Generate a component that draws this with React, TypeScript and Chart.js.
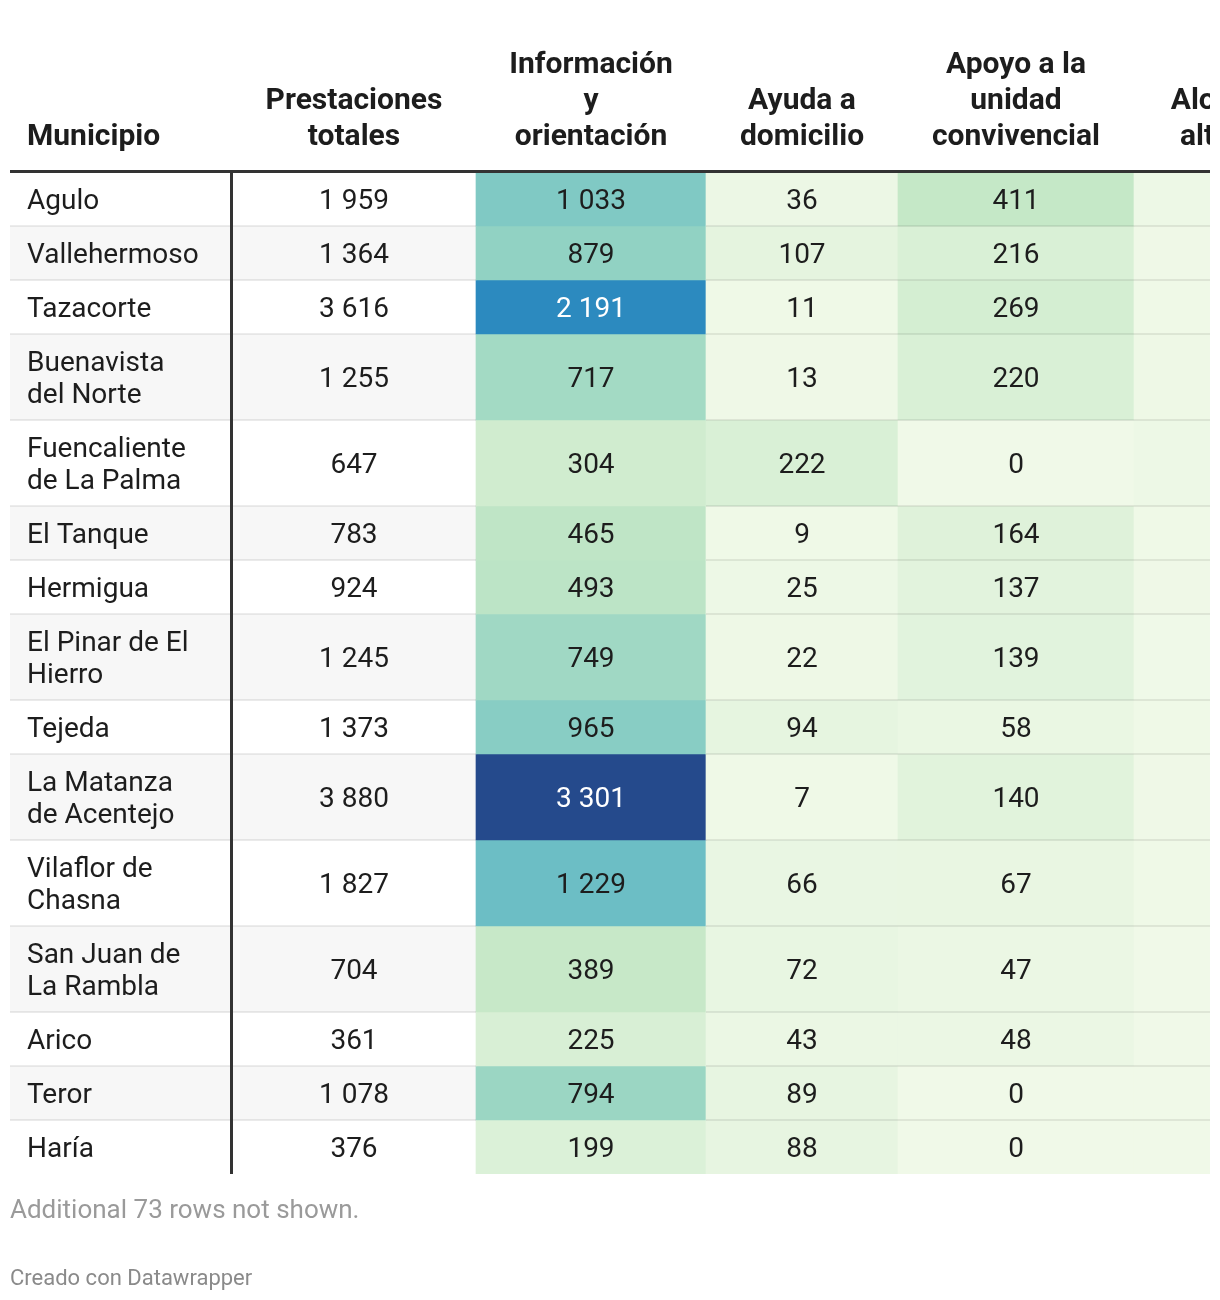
import React, { useEffect, useRef } from "react";
import { Chart, registerables } from "chart.js";

Chart.register(...registerables);

// ---------------- DATA ----------------
const municipios: string[][] = [
  ["Agulo"],
  ["Vallehermoso"],
  ["Tazacorte"],
  ["Buenavista", "del Norte"],
  ["Fuencaliente", "de La Palma"],
  ["El Tanque"],
  ["Hermigua"],
  ["El Pinar de El", "Hierro"],
  ["Tejeda"],
  ["La Matanza", "de Acentejo"],
  ["Vilaflor de", "Chasna"],
  ["San Juan de", "La Rambla"],
  ["Arico"],
  ["Teror"],
  ["Haría"],
];
const prestacionesTotales = [1959, 1364, 3616, 1255, 647, 783, 924, 1245, 1373, 3880, 1827, 704, 361, 1078, 376];
const informacionOrientacion = [1033, 879, 2191, 717, 304, 465, 493, 749, 965, 3301, 1229, 389, 225, 794, 199];
const ayudaDomicilio = [36, 107, 11, 13, 222, 9, 25, 22, 94, 7, 66, 72, 43, 89, 88];
const apoyoUnidadConvivencial = [411, 216, 269, 220, 0, 164, 137, 139, 58, 140, 67, 47, 48, 0, 0];
const alojamientoAlternativo = [28, 12, 8, 22, 25, 10, 12, 6, 8, 14, 10, 4, 3, 2, 1];

const headers: string[][] = [
  ["Municipio"],
  ["Prestaciones", "totales"],
  ["Información", "y", "orientación"],
  ["Ayuda a", "domicilio"],
  ["Apoyo a la", "unidad", "convivencial"],
  ["Alojamiento", "alternativo"],
];
const footnote = "Additional 73 rows not shown.";
const credit = "Creado con Datawrapper";

// ---------------- LAYOUT / STYLE ----------------
const CANVAS_W = 1220;
const CANVAS_H = 1300;
const PAD_LEFT = 10;
const PAD_RIGHT = 10;
const PAD_TOP = 172;
const COL_WIDTHS = [222, 244, 230, 192, 236, 236];
const LINE_H = 32;
const ROW_PAD = 22;
const HEADER_LINE_H = 36;
const FONT_FAMILY = "Roboto, 'Noto Sans', sans-serif";
const BODY_FONT = `28px ${FONT_FAMILY}`;
const HEAD_FONT = `bold 30px ${FONT_FAMILY}`;
const TEXT_COLOR = "#1d1d1d";
const ZEBRA = ["#ffffff", "#f7f7f7"];
const SEP_COLOR = "rgba(0,0,0,0.075)";
const RULE_COLOR = "#333333";
const HEAT_STOPS: [number, string][] = [
  [0, "#f0f9e8"],
  [400, "#c6e8c7"],
  [800, "#9ad6c3"],
  [1200, "#6ec0c5"],
  [2200, "#2b8abf"],
  [3301, "#254a8c"],
];
const INFO_COL = 2;

const columns: (number[] | null)[] = [
  null,
  prestacionesTotales,
  informacionOrientacion,
  ayudaDomicilio,
  apoyoUnidadConvivencial,
  alojamientoAlternativo,
];
const heatCols = [false, false, true, true, true, true];

function hexToRgb(h: string): number[] {
  const n = parseInt(h.slice(1), 16);
  return [(n >> 16) & 255, (n >> 8) & 255, n & 255];
}
function heatRgb(v: number): number[] {
  for (let k = 1; k < HEAT_STOPS.length; k++) {
    const [v0, c0] = HEAT_STOPS[k - 1];
    const [v1, c1] = HEAT_STOPS[k];
    if (v <= v1 || k === HEAT_STOPS.length - 1) {
      const t = Math.max(0, Math.min(1, (v - v0) / (v1 - v0)));
      const a = hexToRgb(c0);
      const b = hexToRgb(c1);
      return a.map((x, i) => Math.round(x + (b[i] - x) * t));
    }
  }
  return hexToRgb(HEAT_STOPS[0][1]);
}
function rgbStr(c: number[]) {
  return `rgb(${c[0]},${c[1]},${c[2]})`;
}
function isDark(c: number[]) {
  const l = (0.299 * c[0] + 0.587 * c[1] + 0.114 * c[2]) / 255;
  return l < 0.5;
}
function fmt(n: number): string {
  return String(n).replace(/\B(?=(\d{3})+(?!\d))/g, " ");
}

const rowHeights = municipios.map((m) => ROW_PAD + LINE_H * m.length);
const tableHeight = rowHeights.reduce((a, b) => a + b, 0);
const rowCenters = rowHeights.map((h, i) => rowHeights.slice(0, i).reduce((a, b) => a + b, 0) + h / 2);
const colStarts = COL_WIDTHS.map((_, j) => COL_WIDTHS.slice(0, j).reduce((a, b) => a + b, 0));
const X_MAX = CANVAS_W - PAD_LEFT - PAD_RIGHT;
const PAD_BOTTOM = CANVAS_H - PAD_TOP - tableHeight;

function cellColor(i: number, j: number): string {
  const col = columns[j];
  if (heatCols[j] && col) return rgbStr(heatRgb(col[i]));
  return ZEBRA[i % 2];
}

const tablePlugin = {
  id: "tableText",
  afterDatasetsDraw(chart: any) {
    const ctx: CanvasRenderingContext2D = chart.ctx;
    const area = chart.chartArea;
    ctx.save();
    ctx.beginPath();
    ctx.rect(area.left, 0, area.right - area.left, chart.height);
    ctx.clip();
    const n = chart.data.datasets.length;
    for (let i = 0; i < n; i++) {
      const meta = chart.getDatasetMeta(i);
      meta.data.forEach((el: any, j: number) => {
        const p = el.getProps(["x", "y", "base", "height"], true);
        const left = Math.min(p.x, p.base);
        const right = Math.max(p.x, p.base);
        const bottom = p.y + p.height / 2;
        if (i < n - 1 && j !== INFO_COL) {
          ctx.fillStyle = SEP_COLOR;
          ctx.fillRect(left, bottom - 1, right - left, 2);
        }
        const col = columns[j];
        const lines = col ? [fmt(col[i])] : municipios[i];
        let color = TEXT_COLOR;
        if (heatCols[j] && col && isDark(heatRgb(col[i]))) color = "#ffffff";
        ctx.fillStyle = color;
        ctx.font = BODY_FONT;
        ctx.textBaseline = "alphabetic";
        ctx.textAlign = col ? "center" : "left";
        const tx = col ? (left + right) / 2 : left + 17;
        lines.forEach((ln, k) => {
          const by = p.y + (k - (lines.length - 1) / 2) * LINE_H + 10;
          ctx.fillText(ln, tx, by);
        });
      });
    }
    // header
    const meta0 = chart.getDatasetMeta(0);
    meta0.data.forEach((el: any, j: number) => {
      const p = el.getProps(["x", "base"], true);
      const left = Math.min(p.x, p.base);
      const right = Math.max(p.x, p.base);
      const lines = headers[j];
      ctx.fillStyle = TEXT_COLOR;
      ctx.font = HEAD_FONT;
      ctx.textBaseline = "alphabetic";
      ctx.textAlign = j === 0 ? "left" : "center";
      const tx = j === 0 ? left + 17 : (left + right) / 2;
      lines.forEach((ln, k) => {
        const by = area.top - 27 - (lines.length - 1 - k) * HEADER_LINE_H;
        ctx.fillText(ln, tx, by);
      });
    });
    // rules
    ctx.fillStyle = RULE_COLOR;
    ctx.fillRect(area.left, area.top - 2, area.right - area.left, 3);
    const el1 = meta0.data[1].getProps(["x", "base"], true);
    const xv = Math.min(el1.x, el1.base);
    ctx.fillRect(xv - 2, area.top, 3, area.bottom - area.top);
    ctx.restore();

    // footer
    ctx.save();
    ctx.textAlign = "left";
    ctx.textBaseline = "alphabetic";
    ctx.fillStyle = "#9a9a9a";
    ctx.font = `26px ${FONT_FAMILY}`;
    ctx.fillText(footnote, area.left, area.bottom + 44);
    ctx.fillStyle = "#8a8a8a";
    ctx.font = `22px ${FONT_FAMILY}`;
    ctx.fillText(credit, area.left, area.bottom + 111);
    ctx.restore();
  },
};

export default function App() {
  const canvasRef = useRef<HTMLCanvasElement | null>(null);
  useEffect(() => {
    if (!canvasRef.current) return;
    const datasets = municipios.map((m, i) => ({
      label: m.join(" "),
      data: COL_WIDTHS.map((w, j) => ({ x: [colStarts[j], colStarts[j] + w], y: rowCenters[i] })),
      backgroundColor: COL_WIDTHS.map((_, j) => cellColor(i, j)),
      borderWidth: 0,
      barThickness: rowHeights[i],
      grouped: true,
      clip: 0,
    }));
    const chart = new Chart(canvasRef.current, {
      type: "bar",
      data: { datasets: datasets as any },
      options: {
        indexAxis: "y",
        animation: false,
        responsive: true,
        maintainAspectRatio: false,
        events: [],
        layout: { padding: { left: PAD_LEFT, right: PAD_RIGHT, top: PAD_TOP, bottom: PAD_BOTTOM } },
        plugins: { legend: { display: false }, tooltip: { enabled: false }, title: { display: false } },
        scales: {
          x: { type: "linear", min: 0, max: X_MAX, display: false, stacked: false, offset: false, grace: 0 },
          y: {
            type: "linear",
            min: 0,
            max: tableHeight,
            reverse: true,
            display: false,
            stacked: true,
            offset: false,
            grace: 0,
          },
        },
      } as any,
      plugins: [tablePlugin],
    });
    if ((document as any).fonts) {
      Promise.all([
        (document as any).fonts.load(BODY_FONT),
        (document as any).fonts.load(HEAD_FONT),
      ]).then(() => chart.update()).catch(() => {});
    }
    return () => chart.destroy();
  }, []);
  return (
    <div style={{ position: "absolute", left: 0, top: 0, width: CANVAS_W, height: CANVAS_H, background: "#fff" }}>
      <canvas ref={canvasRef} />
    </div>
  );
}
